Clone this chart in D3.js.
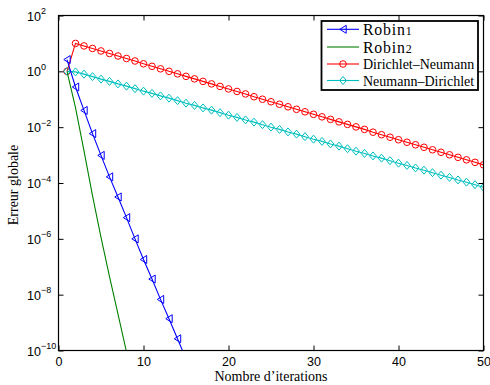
<!DOCTYPE html>
<html>
<head>
<meta charset="utf-8">
<script src="https://cdn.jsdelivr.net/npm/d3@7"></script>
<style>
  html, body { margin: 0; padding: 0; background: #fff; }
  svg { display: block; }
</style>
</head>
<body>
<svg id="chart" width="490" height="385"></svg>
<script>
// ---- data (log10 of global error) ----
const iterations = d3.range(1, 51);
const robin1Iter = [1,2,3,4,5,6,7,8,9,10,11,12,13,14,15];
const robin1Log = [0.42,-0.56,-1.40,-2.23,-3.01,-3.78,-4.50,-5.24,-6.00,-6.74,-7.44,-8.17,-8.86,-9.58,-10.30];
const robin2Iter = [1,2,3,4,5,6,7,8];
const robin2Log = [0.0,-1.30,-2.85,-4.45,-5.95,-7.35,-8.70,-10.05];
const dnLog = [0.00,1.00,0.91,0.82,0.73,0.64,0.55,0.46,0.37,0.27,
               0.18,0.09,0.00,-0.09,-0.18,-0.27,-0.36,-0.45,-0.54,-0.63,
               -0.72,-0.81,-0.91,-1.00,-1.09,-1.18,-1.27,-1.36,-1.45,-1.54,
               -1.63,-1.72,-1.81,-1.90,-1.99,-2.08,-2.18,-2.27,-2.36,-2.45,
               -2.54,-2.63,-2.72,-2.81,-2.90,-2.99,-3.08,-3.17,-3.26,-3.35];
const ndLog = [0.00,-0.02,-0.10,-0.19,-0.28,-0.36,-0.45,-0.53,-0.62,-0.71,
               -0.79,-0.88,-0.96,-1.05,-1.14,-1.22,-1.31,-1.39,-1.48,-1.57,
               -1.65,-1.74,-1.82,-1.91,-2.00,-2.08,-2.17,-2.25,-2.34,-2.43,
               -2.51,-2.60,-2.68,-2.77,-2.86,-2.94,-3.03,-3.11,-3.20,-3.29,
               -3.37,-3.46,-3.54,-3.63,-3.72,-3.80,-3.89,-3.97,-4.06,-4.15];
const xTicks = [0,10,20,30,40,50];
const yTickExps = [-10,-8,-6,-4,-2,0,2];
const legendLabels = ["Robin1","Robin2","Dirichlet\u2013Neumann","Neumann\u2013Dirichlet"];
const xLabel = "Nombre d\u2019iterations";
const yLabel = "Erreur globale";

// ---- layout ----
const svg = d3.select("#chart");
const L = 58.5, R = 483.5, T = 15.5, B = 350.5;
const x = d3.scaleLinear().domain([0, 50]).range([L, R]);
const y = d3.scaleLog().domain([1e-10, 1e2]).range([B, T]);

const series = [
  { name: legendLabels[0], color: "#0000ff", marker: "tri",
    pts: robin1Iter.map((it, i) => [it, Math.pow(10, robin1Log[i])]), markersUpTo: 14 },
  { name: legendLabels[1], color: "#008000", marker: null,
    pts: robin2Iter.map((it, i) => [it, Math.pow(10, robin2Log[i])]) },
  { name: legendLabels[2], color: "#ff0000", marker: "circle",
    pts: iterations.map((it, i) => [it, Math.pow(10, dnLog[i])]) },
  { name: legendLabels[3], color: "#00bfbf", marker: "diamond",
    pts: iterations.map((it, i) => [it, Math.pow(10, ndLog[i])]) }
];

svg.append("defs").append("clipPath").attr("id", "clip")
  .append("rect").attr("x", L).attr("y", T).attr("width", R - L).attr("height", B - T);

const plot = svg.append("g").attr("clip-path", "url(#clip)");
const line = d3.line().x(d => x(d[0])).y(d => y(d[1]));

function markerPath(type, cx, cy) {
  if (type === "circle") {
    const r = 3.3;
    return `M${cx + r},${cy}A${r},${r} 0 1,1 ${cx - r},${cy}A${r},${r} 0 1,1 ${cx + r},${cy}Z`;
  }
  if (type === "diamond") {
    const w = 3.4, h = 4;
    return `M${cx},${cy - h}L${cx + w},${cy}L${cx},${cy + h}L${cx - w},${cy}Z`;
  }
  if (type === "tri") {
    const w = 3.2, h = 4;
    return `M${cx - w},${cy}L${cx + w},${cy - h}L${cx + w},${cy + h}Z`;
  }
  return "";
}

// draw order: DN, ND, Robin2, Robin1
[series[2], series[3], series[1], series[0]].forEach(s => {
  plot.append("path").datum(s.pts)
    .attr("fill", "none").attr("stroke", s.color).attr("stroke-width", 1.1)
    .attr("d", line);
  if (s.marker) {
    const mpts = s.markersUpTo ? s.pts.filter(p => p[0] <= s.markersUpTo) : s.pts;
    plot.selectAll(null).data(mpts).enter().append("path")
      .attr("fill", "none").attr("stroke", s.color).attr("stroke-width", 1)
      .attr("d", d => markerPath(s.marker, x(d[0]), y(d[1])));
  }
});

// ---- axes ----
const tickFont = "'Liberation Sans', Arial, Helvetica, sans-serif";
const xAxis = svg.append("g").attr("transform", `translate(0,${B})`)
  .call(d3.axisBottom(x).tickValues(xTicks).tickSizeInner(-5).tickSizeOuter(0).tickPadding(7).tickFormat(d3.format("d")));
xAxis.selectAll("text").attr("font-family", tickFont).attr("font-size", 12.5).attr("fill", "#000");
svg.append("g").attr("transform", `translate(0,${T})`)
  .call(d3.axisTop(x).tickValues(xTicks).tickSizeInner(-5).tickSizeOuter(0).tickFormat(""));

const yVals = yTickExps.map(e => Math.pow(10, e));
const yAxis = svg.append("g").attr("transform", `translate(${L},0)`)
  .call(d3.axisLeft(y).tickValues(yVals).tickSizeInner(-5).tickSizeOuter(0).tickFormat(""));
yAxis.selectAll(".tick").each(function(d, i) {
  const t = d3.select(this).append("text")
    .attr("x", 27 - L).attr("y", 4.5).attr("text-anchor", "start")
    .attr("font-family", tickFont).attr("font-size", 12.5).attr("fill", "#000");
  t.append("tspan").text("10");
  t.append("tspan").attr("dy", -6.5).attr("font-size", 9).text(String(yTickExps[i]).replace("-", "\u2212"));
});
svg.append("g").attr("transform", `translate(${R},0)`)
  .call(d3.axisRight(y).tickValues(yVals).tickSizeInner(-5).tickSizeOuter(0).tickFormat(""));

svg.selectAll(".domain").remove();
svg.append("rect").attr("x", L).attr("y", T).attr("width", R - L).attr("height", B - T)
  .attr("fill", "none").attr("stroke", "#000").attr("stroke-width", 1.2);
svg.selectAll(".tick line").attr("stroke", "#000");

// ---- axis labels ----
const serif = "'Liberation Serif', 'Times New Roman', Times, serif";
svg.append("text").attr("x", 271).attr("y", 380.5).attr("text-anchor", "middle")
  .attr("font-family", serif).attr("font-size", 14).attr("fill", "#000").text(xLabel);
svg.append("text").attr("transform", "translate(18,185) rotate(-90)").attr("text-anchor", "middle")
  .attr("font-family", serif).attr("font-size", 14).attr("fill", "#000").text(yLabel);

// ---- legend ----
const lg = svg.append("g");
lg.append("rect").attr("x", 321.5).attr("y", 21).attr("width", 156.5).attr("height", 69)
  .attr("fill", "#fff").attr("stroke", "#000").attr("stroke-width", 1.8);
const rowY = [29.3, 47.0, 64, 80.5];
series.forEach((s, i) => {
  const cy = rowY[i];
  lg.append("line").attr("x1", 327).attr("x2", 359).attr("y1", cy).attr("y2", cy)
    .attr("stroke", s.color).attr("stroke-width", 1.1);
  if (s.marker) {
    lg.append("path").attr("fill", "none").attr("stroke", s.color).attr("stroke-width", 1)
      .attr("d", markerPath(s.marker, 343, cy));
  }
  const t = lg.append("text").attr("x", 363).attr("y", cy + (i < 2 ? 5.5 : 5))
    .attr("font-family", serif).attr("fill", "#000");
  if (i < 2) {
    t.attr("font-size", 15.8).attr("letter-spacing", 0.8);
    t.append("tspan").text(s.name.slice(0, -1));
    t.append("tspan").attr("font-size", 12).text(s.name.slice(-1));
  } else {
    t.attr("font-size", 14).text(s.name);
  }
});
</script>
</body>
</html>
